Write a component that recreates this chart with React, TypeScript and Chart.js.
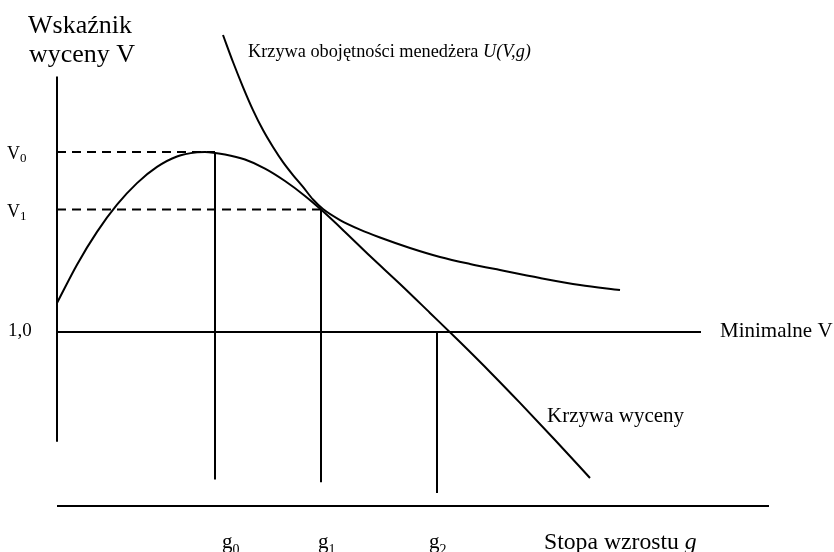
import React, { useEffect, useRef } from "react";
import { Chart, registerables } from "chart.js";
Chart.register(...registerables);

// Krzywa wyceny (valuation curve): growth rate g vs valuation ratio V
const valuationG = [0, 0.5, 1.0, 1.5, 2.0, 2.5, 3.0, 3.5, 3.7, 4.2, 4.7, 5.2, 5.7, 6.2, 6.6, 7.2, 7.825, 8.575, 9.325, 10.075, 10.825, 11.575, 12.45, 13.325];
const valuationV = [1.161, 1.374, 1.556, 1.707, 1.827, 1.917, 1.975, 1.998, 2.0, 1.986, 1.958, 1.908, 1.839, 1.756, 1.68, 1.556, 1.422, 1.267, 1.106, 0.944, 0.778, 0.606, 0.4, 0.189];

// Krzywa obojętności menedżera U(V,g)
const indiffG = [4.15, 4.4, 4.65, 4.9, 5.15, 5.4, 5.65, 5.9, 6.15, 6.4, 6.65, 7.075, 7.575, 8.075, 8.825, 9.575, 10.325, 11.075, 12.075, 13.075, 14.075];
const indiffV = [2.65, 2.5, 2.361, 2.233, 2.122, 2.028, 1.944, 1.872, 1.806, 1.736, 1.683, 1.622, 1.569, 1.525, 1.467, 1.417, 1.378, 1.344, 1.3, 1.261, 1.233];

// Marked growth rates g0, g1, g2 and the V where their drop lines start / end
const markerG = [3.95, 6.6, 9.5];
const markerSub = ["0", "1", "2"];
const dropStartV = [2.0, 1.68, 1.0];
const dropEndV = [0.18, 0.165, 0.105];

// Marked valuation levels V0, V1 and minimal V
const levelV = [2.0, 1.68];
const levelSub = ["0", "1"];
const minV = 1.0;
const minVLabel = "1,0";

// Axis extents (in data units)
const axisTopV = 2.42;
const axisBottomV = 0.39;
const baseV = 0.033;
const baseEndG = 17.8;
const minLineEndG = 16.1;

const FONT = "'Liberation Serif', 'Times New Roman', serif";

export default function App() {
  const ref = useRef<HTMLCanvasElement | null>(null);

  useEffect(() => {
    const canvas = ref.current;
    if (!canvas) return;

    const line = (pts: { x: number; y: number }[], extra: any = {}) => ({
      data: pts,
      showLine: true,
      borderColor: "#000",
      borderWidth: 2,
      pointRadius: 0,
      pointHoverRadius: 0,
      fill: false,
      clip: false as any,
      tension: 0,
      ...extra,
    });

    const datasets: any[] = [
      line(valuationG.map((g, i) => ({ x: g, y: valuationV[i] })), { cubicInterpolationMode: "monotone" }),
      line(indiffG.map((g, i) => ({ x: g, y: indiffV[i] })), { cubicInterpolationMode: "monotone" }),
      line([{ x: 0, y: axisTopV }, { x: 0, y: axisBottomV }]),
      line([{ x: 0, y: baseV }, { x: baseEndG, y: baseV }]),
      line([{ x: 0, y: minV }, { x: minLineEndG, y: minV }]),
      ...levelV.map((v, i) => line([{ x: 0, y: v }, { x: markerG[i], y: v }], { borderDash: [9, 6] })),
      ...markerG.map((g, i) => line([{ x: g, y: dropStartV[i] }, { x: g, y: dropEndV[i] }])),
    ];

    const textPlugin = {
      id: "texts",
      afterDatasetsDraw(chart: any) {
        const ctx = chart.ctx;
        const xs = chart.scales.x;
        const ys = chart.scales.y;
        ctx.save();
        ctx.fillStyle = "#000";
        ctx.textBaseline = "alphabetic";
        ctx.textAlign = "left";

        // Y-axis title
        ctx.font = `26px ${FONT}`;
        ctx.fillText("Wskaźnik", 28, 33);
        ctx.fillText("wyceny V", 29, 62);

        // Indifference curve label
        ctx.font = `18.3px ${FONT}`;
        const t1 = "Krzywa obojętności menedżera ";
        ctx.fillText(t1, 248, 57);
        const w1 = ctx.measureText(t1).width;
        ctx.font = `italic 18.3px ${FONT}`;
        ctx.fillText("U(V,g)", 248 + w1, 57);

        // V0, V1 labels
        levelV.forEach((v, i) => {
          const py = ys.getPixelForValue(v);
          ctx.font = `18px ${FONT}`;
          ctx.fillText("V", 7, py + 7);
          const w = ctx.measureText("V").width;
          ctx.font = `13px ${FONT}`;
          ctx.fillText(levelSub[i], 7 + w, py + 10);
        });

        // 1,0 label
        const pyMin = ys.getPixelForValue(minV);
        ctx.font = `19px ${FONT}`;
        ctx.fillText(minVLabel, 8, pyMin + 4);

        // Minimalne V
        ctx.font = `21px ${FONT}`;
        ctx.fillText("Minimalne V", 720, pyMin + 5);

        // Krzywa wyceny
        ctx.fillText("Krzywa wyceny", 547, 422);

        // g labels
        const gOffsets = [7, -3, -8];
        markerG.forEach((g, i) => {
          const px = xs.getPixelForValue(g) + gOffsets[i];
          ctx.font = `21px ${FONT}`;
          ctx.fillText("g", px, 548);
          const w = ctx.measureText("g").width;
          ctx.font = `14px ${FONT}`;
          ctx.fillText(markerSub[i], px + w, 554);
        });

        // Stopa wzrostu g
        ctx.font = `23.7px ${FONT}`;
        const t2 = "Stopa wzrostu ";
        ctx.fillText(t2, 544, 549);
        const w2 = ctx.measureText(t2).width;
        ctx.font = `italic 23.7px ${FONT}`;
        ctx.fillText("g", 544 + w2, 549);

        ctx.restore();
      },
    };

    const chart = new Chart(canvas, {
      type: "scatter",
      data: { datasets },
      options: {
        animation: false,
        responsive: false,
        maintainAspectRatio: false,
        layout: { padding: { left: 57, right: 57, top: 62, bottom: 40 } },
        plugins: { legend: { display: false }, tooltip: { enabled: false }, title: { display: false } },
        events: [],
        scales: {
          x: { type: "linear", min: 0, max: 18, display: false },
          y: { type: "linear", min: 0, max: 2.5, display: false },
        },
      },
      plugins: [textPlugin],
    } as any);

    return () => chart.destroy();
  }, []);

  return (
    <div style={{ position: "absolute", left: 0, top: 0, width: 834, height: 552, background: "#fff" }}>
      <canvas ref={ref} width={834} height={552} style={{ display: "block", width: 834, height: 552 }} />
    </div>
  );
}
